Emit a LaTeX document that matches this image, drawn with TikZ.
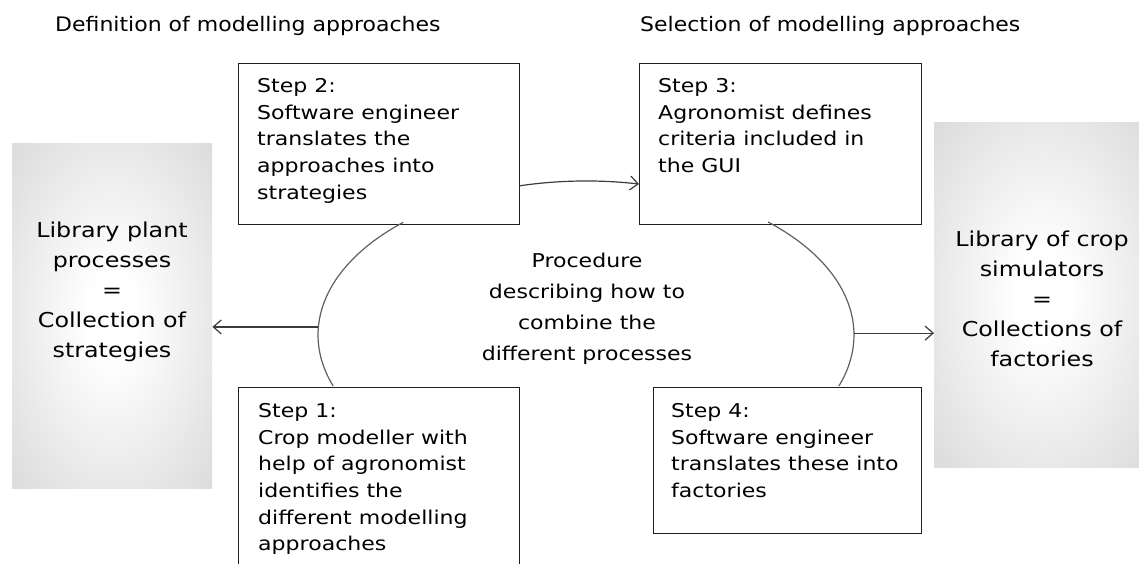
\documentclass[tikz,border=0pt]{standalone}
\usepackage{fontspec}
\setmainfont[FakeStretch=1.16]{DejaVu Sans}
\newfontfamily\hdfont[FakeStretch=1.1]{DejaVu Sans}
\usetikzlibrary{arrows.meta,shapes.geometric,calc}
\definecolor{libgray}{RGB}{221,221,221}
\definecolor{boxline}{RGB}{30,30,30}
\definecolor{ellline}{RGB}{95,95,95}
\definecolor{arrline}{RGB}{60,60,60}
\pgfdeclareradialshading{libshade}{\pgfpoint{0bp}{0bp}}{color(0bp)=(white); color(6bp)=(white); color(34bp)=(libgray); color(50bp)=(libgray)}
\begin{document}
\begin{tikzpicture}[x=1pt,y=-1pt,
  hd/.style={font=\hdfont\fontsize{20}{24}\selectfont, inner sep=0pt},
  stepbox/.style={draw=boxline, line width=1.3pt, fill=white, rectangle, inner sep=0pt, anchor=north west},
  steptext/.style={font=\fontsize{19}{26.7}\selectfont, align=left, inner sep=0pt, anchor=north west},
  lib/.style={rectangle, shading=libshade, inner sep=0pt, anchor=north west},
  libtext/.style={font=\fontsize{20.5}{30}\selectfont, align=center, inner sep=0pt},
  proctext/.style={font=\fontsize{19}{31}\selectfont, align=center, inner sep=0pt},
  cycle/.style={draw=ellline, line width=1.2pt},
  arr/.style={draw=arrline, line width=1.2pt, -{Straight Barb[length=8pt,width=14pt]}}
]
\useasboundingbox (0,0) rectangle (1139,564);
% headers
\node[hd, anchor=base west] (h1) at (55,32) {Definition of modelling approaches};
\node[hd, anchor=base west] (h2) at (640,32) {Selection of modelling approaches};
% libraries
\node[lib, minimum width=200pt, minimum height=345pt] (lib1) at (12,143) {};
\node[lib, minimum width=216pt, minimum height=345pt] (lib2) at (934,122) {};
\node[libtext] (lib1t) at (112,292) {Library plant\\processes\\=\\Collection of\\strategies};
\node[libtext] (lib2t) at (1042,299) {Library of crop\\simulators\\=\\Collections of\\factories};
% step boxes
\node[stepbox, minimum width=281pt, minimum height=161pt] (s2) at (238,63) {};
\node[stepbox, minimum width=282pt, minimum height=161pt] (s3) at (639,63) {};
\node[stepbox, minimum width=281pt, minimum height=210pt] (s1) at (238,387) {};
\node[stepbox, minimum width=268pt, minimum height=146pt] (s4) at (653,387) {};
\node[steptext] (t2) at (257,78) {Step 2:\\Software engineer\\translates the\\approaches into\\strategies};
\node[steptext] (t3) at (658,78) {Step 3:\\Agronomist defines\\criteria included in\\the GUI};
\node[steptext] (t1) at (258,403) {Step 1:\\Crop modeller with\\help of agronomist\\identifies the\\different modelling\\approaches};
\node[steptext] (t4) at (671,403) {Step 4:\\Software engineer\\translates these into\\factories};
% central procedure (cycle of arcs)
\coordinate (c) at (586,335);
\node[proctext] (proct) at (587,309) {Procedure\\describing how to\\combine the\\different processes};
\coordinate (s1out) at ($(c)+(160.7:268 and 154)$);
\coordinate (s2out) at ($(c)+(255.5:268 and 154)$);
\coordinate (s3out) at ($(c)+(312.8:268 and 154)$);
\coordinate (eL) at ($(c)+(183:268 and 154)$);
\coordinate (eR) at ($(c)+(-0.7:268 and 154)$);
\draw[cycle] (s1out) arc[start angle=160.7, end angle=227, x radius=268, y radius=154];
\draw[arr] (s2out) arc[start angle=255.5, end angle=281.4, x radius=268, y radius=154];
\draw[cycle] (s3out) arc[start angle=312.8, end angle=379.3, x radius=268, y radius=154];
% outputs
\draw[arr] (eL) -- (eL -| lib1.east);
\draw[arr] (eR) -- (eR -| lib2.west);
\end{tikzpicture}
\end{document}
